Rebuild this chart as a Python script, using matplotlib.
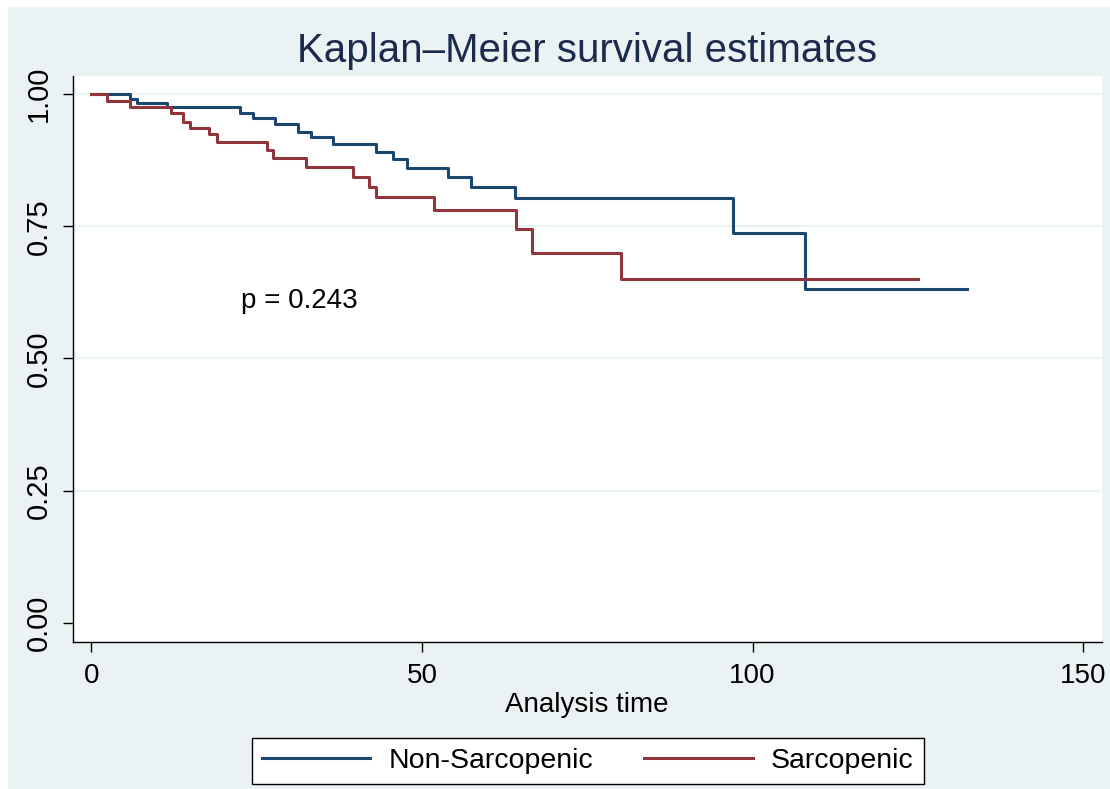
import matplotlib
matplotlib.use("Agg")
import matplotlib.pyplot as plt
from matplotlib.patches import Rectangle

plt.rcParams['font.family'] = ['Liberation Sans', 'DejaVu Sans']

# step points (time, survival)
nonsarc_time = [0, 5.8, 6.9, 11.5, 22.4, 24.4, 27.8, 31.3, 33.2, 36.6, 43.0, 45.6,
                47.7, 53.9, 57.4, 64.0, 97.0, 107.9, 132.5]
nonsarc_surv = [1.0, 0.992, 0.983, 0.975, 0.965, 0.955, 0.944, 0.929, 0.920, 0.906,
                0.891, 0.877, 0.861, 0.844, 0.825, 0.803, 0.737, 0.632, 0.632]

sarc_time = [0, 2.4, 5.8, 12.1, 13.8, 14.9, 17.8, 19.0, 26.6, 27.4, 32.5, 39.6,
             42.0, 43.1, 51.8, 64.2, 66.7, 80.1, 125.0]
sarc_surv = [1.0, 0.988, 0.975, 0.964, 0.948, 0.936, 0.924, 0.910, 0.895, 0.879,
             0.862, 0.844, 0.825, 0.805, 0.781, 0.745, 0.700, 0.650, 0.650]

xticks = [0, 50, 100, 150]
yticks = [0.0, 0.25, 0.5, 0.75, 1.0]
ylabels = ["0.00", "0.25", "0.50", "0.75", "1.00"]

bg = '#eaf2f3'
blue = '#1a476f'
red = '#90353b'

W, H = 1110, 789
fig = plt.figure(figsize=(W/100, H/100), dpi=100, facecolor='white')
fig.patches.append(Rectangle((8/W, 0), 1, 1 - 7/H, transform=fig.transFigure,
                             facecolor=bg, edgecolor='none', zorder=-10))

ax = fig.add_axes([72.7/W, 1 - 641.7/H, (1101.7-72.7)/W, (641.7-76)/H])
ax.set_facecolor('white')

for y in yticks[1:]:
    ax.axhline(y, color=bg, lw=1.6, zorder=1)

ax.step(nonsarc_time, nonsarc_surv, where='post', color=blue, lw=2.2,
        label='Non-Sarcopenic', zorder=3)
ax.step(sarc_time, sarc_surv, where='post', color=red, lw=2.2,
        label='Sarcopenic', zorder=4)

ax.set_xlim(-2.83, 152.8)
ax.set_ylim(-0.036, 1.0346)
ax.set_xticks(xticks)
ax.set_yticks(yticks)
ax.set_yticklabels(ylabels, rotation=90, va='center')
ax.tick_params(axis='both', length=7.2, width=1.0, color='black', labelsize=20)
ax.tick_params(axis='y', labelsize=21, pad=7)
ax.tick_params(axis='x', pad=8)

for s in ['top', 'right']:
    ax.spines[s].set_visible(False)
for s in ['left', 'bottom']:
    ax.spines[s].set_color('black')
    ax.spines[s].set_linewidth(1.0)

ax.set_xlabel('Analysis time', fontsize=20, labelpad=2)
ax.set_title('Kaplan\u2013Meier survival estimates', fontsize=29, color='#1c2b4b', pad=10)

ax.text(22.6, 0.596, 'p = 0.243', fontsize=20, ha='left', va='baseline')

leg = fig.legend(loc='center', bbox_to_anchor=(587.7/W, 1 - 761/H), ncol=2,
                 fontsize=20.5, frameon=True, fancybox=False, edgecolor='black',
                 facecolor='white', framealpha=1, handlelength=3.8,
                 handletextpad=0.65, columnspacing=1.8, borderpad=0.35)
leg.get_frame().set_linewidth(1.0)

fig.savefig('out.png', dpi=100, facecolor=fig.get_facecolor())
